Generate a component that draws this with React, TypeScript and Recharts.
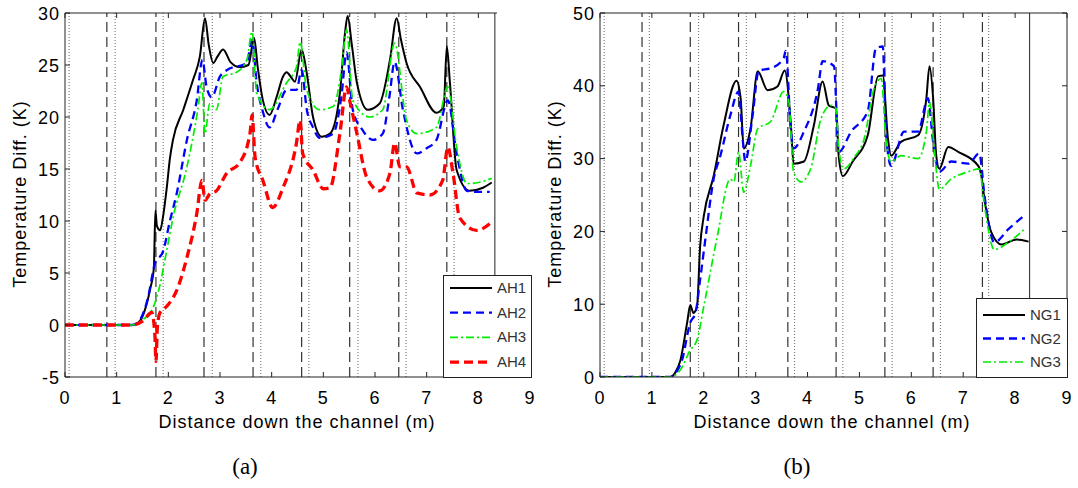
import React from 'react';
import { LineChart, Line, XAxis, YAxis, ReferenceLine, Legend } from 'recharts';

type Pt = [number, number];

// axis ticks
const xTicks = [0, 1, 2, 3, 4, 5, 6, 7, 8, 9];
const yTicksA = [-5, 0, 5, 10, 15, 20, 25, 30];
const yTicksB = [0, 10, 20, 30, 40, 50];

// vertical markers along the channel (m)
const dashedA = [0.81, 1.76, 2.69, 3.64, 4.58, 5.51, 6.46, 7.39];
const dottedA = [0.08, 0.97, 1.9, 2.85, 3.79, 4.72, 5.67, 6.6, 7.53];
const endA = 8.32;
const dashedB = [0.81, 1.74, 2.67, 3.62, 4.55, 5.49, 6.42, 7.37];
const dottedB = [0.08, 0.95, 1.9, 2.82, 3.75, 4.68, 5.63, 6.56, 7.49];
const endB = 8.28;

// (a) temperature difference, K
const ah1: Pt[] = [
  [0, 0], [1.3, 0], [1.45, 0.4], [1.55, 1.5], [1.65, 3.5], [1.72, 5.5], [1.75, 11], [1.78, 9.5], [1.84, 9.1],
  [1.9, 10.5], [1.97, 13.2], [2.03, 16], [2.09, 17.8], [2.29, 20.7], [2.48, 23.6], [2.61, 25.8], [2.71, 29.5],
  [2.78, 27], [2.87, 25.2], [2.95, 25.8], [3.06, 26.5], [3.2, 25.3], [3.38, 24.8], [3.55, 25], [3.66, 27.6],
  [3.73, 24.8], [3.83, 21.6], [3.96, 20.2], [4.1, 22], [4.22, 23.9], [4.29, 24.3], [4.38, 23.8], [4.45, 23.4],
  [4.58, 26.5], [4.68, 24.2], [4.8, 20], [4.97, 18.1], [5.13, 18.4], [5.32, 22.3], [5.42, 28.1], [5.47, 29.7],
  [5.55, 27], [5.65, 23.3], [5.86, 20.7], [6.09, 21.3], [6.29, 25.5], [6.42, 29.5], [6.5, 27.5], [6.61, 25.2],
  [6.87, 22.9], [7.19, 20.4], [7.33, 21], [7.39, 26.8], [7.45, 23.3], [7.58, 14.9], [7.83, 12.9], [8.09, 13.2],
  [8.26, 13.7],
];
const ah2: Pt[] = [
  [0, 0], [1.3, 0], [1.45, 0.5], [1.6, 2.5], [1.74, 5.9], [1.9, 7.1], [2.03, 10], [2.16, 12.6], [2.36, 17.8],
  [2.55, 21.6], [2.66, 25.5], [2.74, 22.9], [2.84, 21.9], [3.0, 23.9], [3.13, 24.5], [3.52, 25.2], [3.62, 27.4],
  [3.71, 23.3], [3.83, 20.5], [3.96, 19], [4.12, 20.8], [4.29, 22.6], [4.48, 22.6], [4.58, 24.5], [4.68, 20.7],
  [4.8, 19], [4.93, 18], [5.19, 18.4], [5.35, 22], [5.45, 26.2], [5.57, 20.7], [5.75, 18.8], [5.96, 17.8],
  [6.15, 18.4], [6.28, 22], [6.38, 25.3], [6.54, 20.7], [6.81, 16.5], [7.0, 17], [7.19, 17.8], [7.41, 21.6],
  [7.58, 16.5], [7.78, 12.9], [8.0, 12.8], [8.22, 12.8],
];
const ah3: Pt[] = [
  [0, 0], [1.3, 0], [1.5, 0.5], [1.7, 1.6], [1.84, 3.9], [1.97, 7.2], [2.09, 10.3], [2.36, 15.2], [2.57, 20.7],
  [2.65, 23.3], [2.71, 18.4], [2.8, 21.3], [2.93, 20.7], [3.06, 23.9], [3.32, 24.3], [3.52, 25.5], [3.62, 28.2],
  [3.71, 22.3], [3.96, 20.7], [4.29, 23.3], [4.48, 24.8], [4.55, 27.2], [4.68, 22.6], [4.93, 20.7], [5.19, 21],
  [5.35, 24.5], [5.45, 28.4], [5.57, 21.6], [5.9, 20], [6.15, 20.7], [6.38, 27.1], [6.61, 19.7], [6.81, 18.4],
  [7.19, 19], [7.41, 22.9], [7.58, 17.1], [7.78, 13.6], [8.0, 13.7], [8.26, 14.1],
];
const ah4: Pt[] = [
  [0, 0], [1.3, 0], [1.51, 0.4], [1.68, 1.2], [1.74, -1], [1.76, -3.5], [1.79, 0], [1.84, 1.2], [1.97, 1.8],
  [2.16, 3.3], [2.36, 6.5], [2.55, 10.7], [2.65, 13.9], [2.71, 12], [2.8, 12.6], [2.93, 12.9], [3.13, 14.6],
  [3.38, 15.6], [3.58, 18.4], [3.62, 20.2], [3.68, 16.1], [3.83, 13.9], [4.02, 11.3], [4.22, 13.2], [4.48, 17.5],
  [4.55, 19.7], [4.6, 16.5], [4.8, 14.9], [5.0, 13.1], [5.13, 13.2], [5.32, 18.4], [5.45, 22.9], [5.51, 21.6],
  [5.65, 18.4], [5.84, 14.2], [6.09, 12.9], [6.29, 14.6], [6.38, 17.5], [6.48, 15.2], [6.61, 15.2], [6.81, 12.7],
  [7.06, 12.5], [7.31, 13.9], [7.41, 17.1], [7.51, 14.6], [7.64, 10.3], [7.97, 9.1], [8.26, 9.9],
];

// (b) temperature difference, K
const ng1: Pt[] = [
  [0, 0], [1.35, 0], [1.45, 0.6], [1.55, 2.3], [1.68, 7.5], [1.74, 9.9], [1.8, 8.8], [1.87, 9.7], [1.93, 18],
  [2.0, 22.1], [2.19, 27.6], [2.38, 34.5], [2.63, 40.7], [2.71, 38.3], [2.77, 31.4], [2.9, 34.1], [3.04, 42],
  [3.23, 39.4], [3.42, 39.9], [3.56, 42.1], [3.68, 34.5], [3.73, 29.3], [3.93, 29.6], [4.12, 34.5], [4.29, 40.6],
  [4.41, 37.3], [4.55, 36.9], [4.6, 30.4], [4.68, 27.6], [4.87, 29.6], [5.16, 33.2], [5.36, 41.3], [5.45, 41.4],
  [5.55, 32.7], [5.61, 30.4], [5.8, 32.3], [6.13, 33.2], [6.29, 38.3], [6.35, 42.7], [6.42, 38.3], [6.48, 30.4],
  [6.54, 28.6], [6.71, 31.6], [6.91, 30.9], [7.29, 29], [7.35, 27.6], [7.41, 24.4], [7.54, 19.9], [7.74, 18.2],
  [8.03, 18.9], [8.26, 18.6],
];
const ng2: Pt[] = [
  [0, 0], [1.35, 0], [1.45, 0.5], [1.58, 2.3], [1.74, 7.5], [1.84, 8.8], [1.93, 13.4], [2.03, 18.9], [2.19, 27.2],
  [2.32, 30.4], [2.51, 35.9], [2.67, 39.2], [2.75, 32.7], [2.8, 29.6], [2.94, 35.9], [3.06, 42.1], [3.29, 42.4],
  [3.54, 43.8], [3.58, 44.8], [3.68, 33.7], [3.73, 31.4], [3.93, 33.7], [4.2, 39.6], [4.29, 43.4], [4.51, 42.7],
  [4.6, 30.9], [4.84, 33.7], [5.16, 36.5], [5.32, 45.2], [5.45, 45.4], [5.51, 33.7], [5.61, 29], [5.86, 33.7],
  [6.13, 33.7], [6.32, 38.3], [6.42, 32.3], [6.54, 28.2], [6.77, 29.6], [7.1, 29.3], [7.31, 30.7], [7.41, 24.9],
  [7.6, 18.5], [7.87, 20.3], [8.16, 22.1],
];
const ng3: Pt[] = [
  [0, 0], [1.35, 0], [1.55, 1], [1.74, 3.7], [1.87, 5.1], [2.0, 9.7], [2.26, 19.3], [2.51, 27.2], [2.58, 26.8],
  [2.67, 30.9], [2.77, 25.4], [2.9, 29], [3.04, 34.1], [3.29, 35.1], [3.54, 39.2], [3.64, 37.8], [3.73, 28.2],
  [3.87, 26.8], [4.06, 28.6], [4.26, 35.5], [4.45, 37.3], [4.55, 36.9], [4.6, 31.4], [4.7, 28.6], [4.9, 30.2],
  [5.09, 32.7], [5.28, 39.6], [5.42, 41], [5.51, 32.7], [5.61, 29.6], [5.8, 30.4], [6.13, 30], [6.29, 33.7],
  [6.35, 37.8], [6.44, 31.4], [6.54, 25.8], [6.77, 27.2], [7.1, 28.2], [7.31, 28.6], [7.41, 23.5], [7.6, 17.5],
  [7.87, 18.5], [8.18, 20.3],
];

const FONT = '"Liberation Sans", Arial, Helvetica, sans-serif';
const AXIS = '#222';
const TICK_LEN = 5;

interface Series {
  name: string;
  points: Pt[];
  color: string;
  width: number;
  dash?: string;
}

const seriesA: Series[] = [
  { name: 'AH1', points: ah1, color: '#000000', width: 2 },
  { name: 'AH2', points: ah2, color: '#0000ff', width: 2.3, dash: '8 5' },
  { name: 'AH3', points: ah3, color: '#00ee00', width: 1.7, dash: '8 3 2 3' },
  { name: 'AH4', points: ah4, color: '#ff0000', width: 3.3, dash: '9 5' },
];
const seriesB: Series[] = [
  { name: 'NG1', points: ng1, color: '#000000', width: 2 },
  { name: 'NG2', points: ng2, color: '#0000ff', width: 2.3, dash: '8 5' },
  { name: 'NG3', points: ng3, color: '#00ee00', width: 1.7, dash: '8 3 2 3' },
];

const toPoints = (pts: Pt[]) => pts.map(([x, y]) => ({ x, y }));

// MATLAB style ticks: marks point into the plot box
const BottomTick = ({ x, y, payload }: any) => (
  <g>
    <line x1={x} x2={x} y1={y} y2={y - TICK_LEN} stroke={AXIS} />
    <text x={x} y={y + 27} textAnchor="middle" fontSize={18} letterSpacing={1} fontFamily={FONT} fill="#000">
      {payload.value}
    </text>
  </g>
);
const TopTick = ({ x, y }: any) => <line x1={x} x2={x} y1={y} y2={y + TICK_LEN} stroke={AXIS} />;
const LeftTick = ({ x, y, payload }: any) => (
  <g>
    <line x1={x} x2={x + TICK_LEN} y1={y} y2={y} stroke={AXIS} />
    <text x={x - 5} y={y + 6.5} textAnchor="end" fontSize={18} letterSpacing={1} fontFamily={FONT} fill="#000">
      {payload.value}
    </text>
  </g>
);
const RightTick = ({ x, y }: any) => <line x1={x} x2={x - TICK_LEN} y1={y} y2={y} stroke={AXIS} />;

interface LegendBoxProps {
  items: Series[];
  width: number;
  height: number;
  first: number;
  step: number;
}

function LegendBox({ items, width, height, first, step }: LegendBoxProps) {
  return (
    <svg width={width} height={height} style={{ display: 'block' }}>
      <rect x={0.5} y={0.5} width={width - 1} height={height - 1} fill="#fff" stroke={AXIS} />
      {items.map((s, i) => {
        const cy = first + i * step;
        return (
          <g key={s.name}>
            <line x1={7} x2={49} y1={cy} y2={cy} stroke={s.color} strokeWidth={s.width} strokeDasharray={s.dash} />
            <text x={54} y={cy + 5} fontSize={15} fontFamily={FONT} fill="#333">
              {s.name}
            </text>
          </g>
        );
      })}
    </svg>
  );
}

interface PanelProps {
  left: number;
  width: number;
  yDomain: [number, number];
  yTicks: number[];
  series: Series[];
  dashed: number[];
  dotted: number[];
  end: number;
  legend: { left: number; top: number; width: number; height: number; first: number; step: number };
}

function Panel({ left, width, yDomain, yTicks, series, dashed, dotted, end, legend }: PanelProps) {
  return (
    <div style={{ position: 'absolute', left, top: 0 }}>
      <LineChart width={width} height={488} margin={{ top: 12, right: 10, bottom: 81, left: 8 }}>
        <XAxis
          xAxisId={0}
          dataKey="x"
          type="number"
          domain={[0, 9]}
          ticks={xTicks}
          allowDataOverflow
          height={30}
          tickSize={0}
          tickMargin={0}
          tickLine={false}
          tick={BottomTick}
          axisLine={{ stroke: AXIS }}
        />
        <XAxis
          xAxisId="top"
          orientation="top"
          dataKey="x"
          type="number"
          domain={[0, 9]}
          ticks={xTicks}
          allowDataOverflow
          height={1}
          tickSize={0}
          tickMargin={0}
          tickLine={false}
          tick={TopTick}
          axisLine={{ stroke: AXIS }}
        />
        <YAxis
          yAxisId={0}
          type="number"
          domain={yDomain}
          ticks={yTicks}
          allowDataOverflow
          width={57}
          tickSize={0}
          tickMargin={0}
          tickLine={false}
          tick={LeftTick}
          axisLine={{ stroke: AXIS }}
        />
        <YAxis
          yAxisId="right"
          orientation="right"
          type="number"
          domain={yDomain}
          ticks={yTicks}
          allowDataOverflow
          width={1}
          tickSize={0}
          tickMargin={0}
          tickLine={false}
          tick={RightTick}
          axisLine={{ stroke: AXIS }}
        />
        {dotted.map((v) => (
          <ReferenceLine key={'dot' + v} x={v} stroke="#666" strokeDasharray="1 2" />
        ))}
        {dashed.map((v) => (
          <ReferenceLine key={'dash' + v} x={v} stroke="#333" strokeWidth={1.2} strokeDasharray="10 5" />
        ))}
        <ReferenceLine x={end} stroke="#222" />
        {series.map((s) => (
          <Line
            key={s.name}
            name={s.name}
            data={toPoints(s.points)}
            dataKey="y"
            type="monotone"
            stroke={s.color}
            strokeWidth={s.width}
            strokeDasharray={s.dash}
            dot={false}
            activeDot={false}
            isAnimationActive={false}
          />
        ))}
        <Legend
          layout="vertical"
          align="center"
          verticalAlign="middle"
          wrapperStyle={{ left: legend.left, top: legend.top, width: legend.width, height: legend.height }}
          content={() => (
            <LegendBox items={series} width={legend.width} height={legend.height} first={legend.first} step={legend.step} />
          )}
        />
      </LineChart>
    </div>
  );
}

export default function App() {
  return (
    <div style={{ position: 'absolute', left: 0, top: 0, width: 1078, height: 488, background: '#fff', overflow: 'hidden' }}>
      <Panel
        left={0}
        width={541}
        yDomain={[-5, 30]}
        yTicks={yTicksA}
        series={seriesA}
        dashed={dashedA}
        dotted={dottedA}
        end={endA}
        legend={{ left: 443, top: 275, width: 89, height: 103, first: 13, step: 24.7 }}
      />
      {/* panel (a) is cut off just right of the channel end */}
      <div style={{ position: 'absolute', left: 497, top: 0, width: 38, height: 275, background: '#fff' }} />
      <Panel
        left={535}
        width={543}
        yDomain={[0, 50]}
        yTicks={yTicksB}
        series={seriesB}
        dashed={dashedB}
        dotted={dottedB}
        end={endB}
        legend={{ left: 441, top: 298, width: 92, height: 80, first: 17, step: 23.5 }}
      />
      <svg width={1078} height={488} style={{ position: 'absolute', left: 0, top: 0, pointerEvents: 'none' }}>
        <g fontFamily={FONT} fontSize={18} letterSpacing={1} fill="#000">
          <text x={297} y={428} textAnchor="middle">Distance down the channel (m)</text>
          <text x={832} y={428} textAnchor="middle">Distance down the channel (m)</text>
          <text transform="translate(26,194) rotate(-90)" textAnchor="middle">Temperature Diff. (K)</text>
          <text transform="translate(561,194) rotate(-90)" textAnchor="middle">Temperature Diff. (K)</text>
        </g>
        <g fontFamily='"Liberation Serif", "Times New Roman", serif' fontSize={23} fill="#000">
          <text x={245} y={474} textAnchor="middle">(a)</text>
          <text x={797} y={474} textAnchor="middle">(b)</text>
        </g>
      </svg>
    </div>
  );
}
